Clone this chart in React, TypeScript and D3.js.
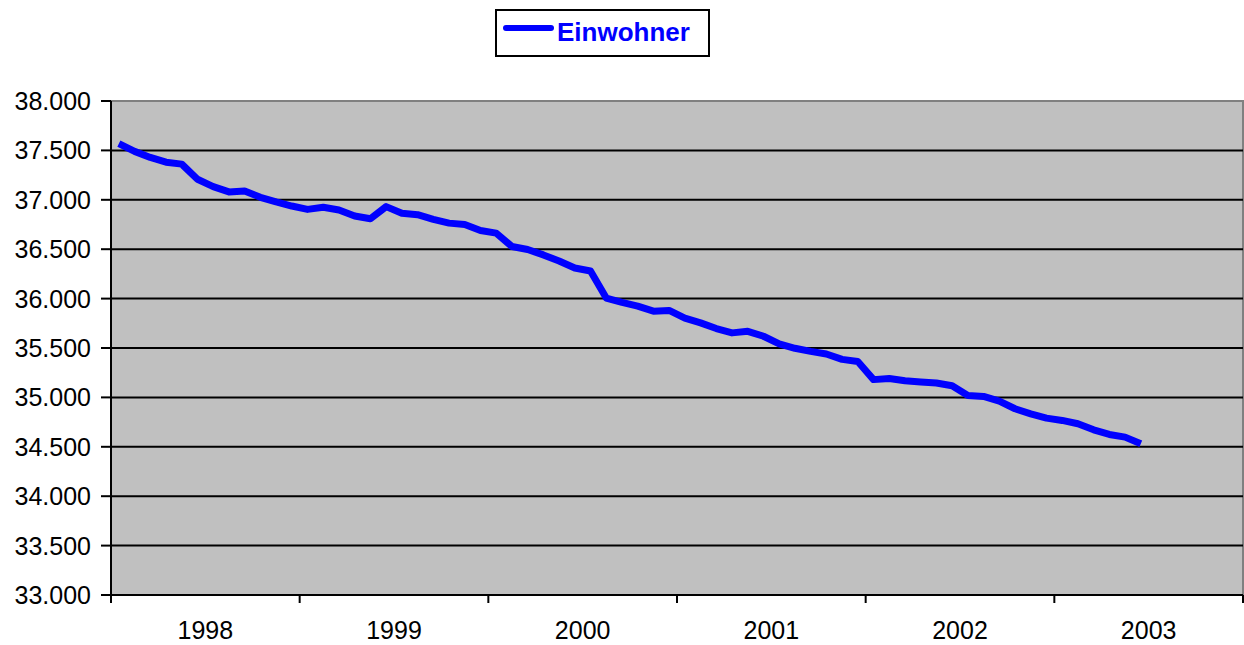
import React, { useEffect, useRef } from "react";
import * as d3 from "d3";

// Einwohner, monatlich (Jan 1998 - Jun 2003)
const years = ["1998", "1999", "2000", "2001", "2002", "2003"];
const einwohner1998 = [37568, 37490, 37429, 37381, 37361, 37208, 37134, 37080, 37090, 37025, 36978, 36937];
const einwohner1999 = [36903, 36924, 36897, 36836, 36808, 36931, 36863, 36849, 36802, 36764, 36751, 36690];
const einwohner2000 = [36663, 36527, 36497, 36442, 36381, 36310, 36280, 36005, 35961, 35924, 35873, 35880];
const einwohner2001 = [35802, 35754, 35697, 35653, 35669, 35619, 35541, 35497, 35466, 35439, 35385, 35363];
const einwohner2002 = [35180, 35192, 35169, 35156, 35145, 35118, 35020, 35010, 34963, 34885, 34834, 34790];
const einwohner2003 = [34767, 34733, 34672, 34625, 34598, 34530];
const yTicks = [33000, 33500, 34000, 34500, 35000, 35500, 36000, 36500, 37000, 37500, 38000];
const seriesName = "Einwohner";

const width = 1244;
const height = 645;
const plot = { left: 111, right: 1243, top: 101, bottom: 595 };

const fmt = (v: number) => d3.format(",")(v).replace(/,/g, ".");

const App = () => {
  const ref = useRef<SVGSVGElement>(null);

  useEffect(() => {
    document.body.style.margin = "0";
    const data = [
      ...einwohner1998,
      ...einwohner1999,
      ...einwohner2000,
      ...einwohner2001,
      ...einwohner2002,
      ...einwohner2003,
    ];

    const svg = d3.select(ref.current);
    svg.selectAll("*").remove();

    const x = d3
      .scaleLinear()
      .domain([0, years.length * 12])
      .range([plot.left, plot.right]);
    const xBand = d3.scaleBand().domain(years).range([plot.left, plot.right]);
    const y = d3.scaleLinear().domain([33000, 38000]).range([plot.bottom, plot.top]);

    const font = "'Liberation Sans', Arial, sans-serif";

    // plot area
    svg
      .append("rect")
      .attr("x", plot.left)
      .attr("y", plot.top)
      .attr("width", plot.right - plot.left)
      .attr("height", plot.bottom - plot.top)
      .attr("fill", "#c0c0c0")
      .attr("stroke", "#808080")
      .attr("stroke-width", 2);

    // grid lines
    svg
      .append("g")
      .selectAll("line")
      .data(yTicks.filter((t) => t > 33000 && t < 38000))
      .join("line")
      .attr("x1", plot.left)
      .attr("x2", plot.right)
      .attr("y1", (d) => y(d))
      .attr("y2", (d) => y(d))
      .attr("stroke", "#000")
      .attr("stroke-width", 2);

    // y axis
    const yAxis = svg.append("g");
    yAxis
      .append("line")
      .attr("x1", plot.left)
      .attr("x2", plot.left)
      .attr("y1", plot.top)
      .attr("y2", plot.bottom + 1)
      .attr("stroke", "#000")
      .attr("stroke-width", 2);
    yAxis
      .selectAll("line.tick")
      .data(yTicks)
      .join("line")
      .attr("class", "tick")
      .attr("x1", plot.left - 10)
      .attr("x2", plot.left)
      .attr("y1", (d) => y(d))
      .attr("y2", (d) => y(d))
      .attr("stroke", "#000")
      .attr("stroke-width", 2);
    yAxis
      .selectAll("text")
      .data(yTicks)
      .join("text")
      .attr("x", 91)
      .attr("y", (d) => y(d))
      .attr("dy", "0.36em")
      .attr("text-anchor", "end")
      .attr("font-family", font)
      .attr("font-size", 25)
      .attr("fill", "#000")
      .text((d) => fmt(d));

    // x axis
    const xAxis = svg.append("g");
    xAxis
      .append("line")
      .attr("x1", plot.left - 1)
      .attr("x2", plot.right)
      .attr("y1", plot.bottom)
      .attr("y2", plot.bottom)
      .attr("stroke", "#000")
      .attr("stroke-width", 2);
    xAxis
      .selectAll("line.tick")
      .data(d3.range(years.length + 1))
      .join("line")
      .attr("class", "tick")
      .attr("x1", (d) => x(d * 12))
      .attr("x2", (d) => x(d * 12))
      .attr("y1", plot.bottom)
      .attr("y2", plot.bottom + 8)
      .attr("stroke", "#000")
      .attr("stroke-width", 2);
    xAxis
      .selectAll("text")
      .data(years)
      .join("text")
      .attr("x", (d) => (xBand(d) as number) + xBand.bandwidth() / 2)
      .attr("y", 639)
      .attr("text-anchor", "middle")
      .attr("font-family", font)
      .attr("font-size", 25)
      .attr("fill", "#000")
      .text((d) => d);

    // series line
    const line = d3
      .line<number>()
      .x((d, i) => x(i + 0.5))
      .y((d) => y(d));
    svg
      .append("path")
      .datum(data)
      .attr("d", line)
      .attr("fill", "none")
      .attr("stroke", "#0000ff")
      .attr("stroke-width", 7)
      .attr("stroke-linejoin", "round");

    // legend
    const legend = svg.append("g");
    legend
      .append("rect")
      .attr("x", 496)
      .attr("y", 10)
      .attr("width", 213)
      .attr("height", 46)
      .attr("fill", "#fff")
      .attr("stroke", "#000")
      .attr("stroke-width", 2);
    legend
      .append("line")
      .attr("x1", 506)
      .attr("x2", 551)
      .attr("y1", 28)
      .attr("y2", 28)
      .attr("stroke", "#0000ff")
      .attr("stroke-width", 6)
      .attr("stroke-linecap", "round");
    legend
      .append("text")
      .attr("x", 557)
      .attr("y", 41)
      .attr("font-family", font)
      .attr("font-size", 26)
      .attr("font-weight", "bold")
      .attr("fill", "#0000ff")
      .text(seriesName);
  }, []);

  return <svg ref={ref} width={width} height={height} style={{ display: "block" }} />;
};

export default App;
